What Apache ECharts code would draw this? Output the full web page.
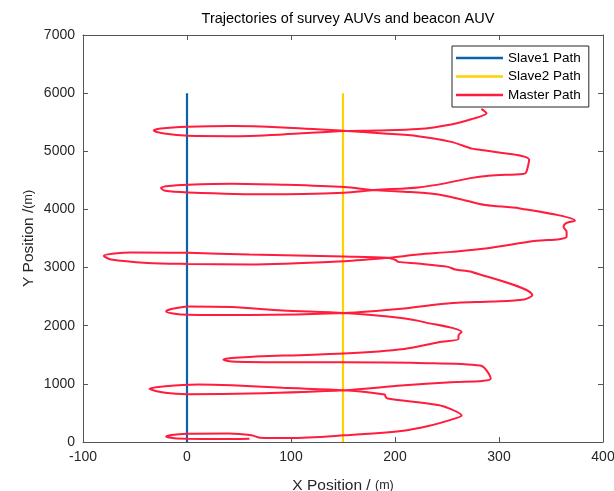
<!DOCTYPE html>
<html>
<head>
<meta charset="utf-8">
<script src="https://cdn.jsdelivr.net/npm/echarts@6/dist/echarts.min.js"></script>
<style>
html,body{margin:0;padding:0;background:#fff;}
#chart{width:614px;height:491px;}
</style>
</head>
<body>
<div id="chart"></div>
<script>
// ---- data ----
var titleText = 'Trajectories of survey AUVs and beacon AUV';
var seriesNames = ['Slave1 Path', 'Slave2 Path', 'Master Path'];
var slave1Path = [[0, 0], [0, 6000]];
var slave2Path = [[150, 0], [150, 6000]];
var masterPath = [
  [283,5728],[288,5653],[274,5555],[254,5462],[222,5382],[183,5358],[150,5347],
  [92,5289],[43,5260],[1,5266],[-22,5306],[-32,5358],[-25,5393],[1,5422],[43,5434],[92,5410],[150,5353],
  [189,5306],[222,5260],[254,5162],[274,5046],[280,5029],[329,4856],[326,4632],[323,4609],[290,4580],
  [271,4534],[248,4448],[222,4379],[180,4333],
  [151,4287],[76,4259],[1,4293],[-21,4322],[-25,4368],[-18,4402],[1,4425],[43,4443],[92,4425],[151,4385],[180,4333],
  [209,4305],[238,4264],[264,4172],[287,4075],[320,4017],[373,3805],[365,3770],[362,3701],[365,3615],
  [365,3529],[358,3489],[336,3460],[287,3328],[254,3270],[222,3224],[193,3167],
  [151,3109],[60,3052],[1,3063],[-38,3080],[-73,3138],[-80,3201],[-54,3259],[1,3253],[60,3224],[151,3190],[193,3167],
  [201,3126],[203,3098],[222,3069],[251,3012],[258,2966],[274,2925],[332,2523],[324,2450],[294,2415],
  [260,2395],[238,2360],[206,2290],[151,2217],
  [60,2183],[1,2189],[-12,2206],[-20,2246],[-15,2286],[1,2331],[43,2320],[92,2263],[151,2217],
  [206,2131],[229,2057],[264,1891],[261,1829],[261,1771],[242,1714],[209,1600],[151,1520],[92,1486],
  [43,1446],[35,1417],[43,1383],[92,1371],[151,1371],[222,1360],[282,1314],[292,1086],[284,1051],
  [254,1029],[206,971],[151,891],
  [60,834],[1,823],[-21,846],[-36,914],[-21,960],[11,989],[43,975],[92,931],[151,891],
  [190,817],[191,777],[193,749],[238,646],[248,606],[264,457],[258,406],[232,274],[206,189],[151,114],
  [99,68],[70,75],[62,115],[40,145],[0,140],[-15,120],[-20,92],[-12,65],[0,57],[30,52],[60,58]
];
var xTicks = {min: -100, max: 400, step: 100};
var yTicks = {min: 0, max: 7000, step: 1000};
var xLabel = 'X Position /';
var yLabel = 'Y Position /';
var unitLabel = '(m)';

// ---- chart ----
var font = 'Liberation Sans, Arial, Helvetica, sans-serif';
var axisColor = '#555555';
var textColor = '#262626';
var chart = echarts.init(document.getElementById('chart'), null, {renderer: 'canvas'});

function plain(v) { return String(v); }

function baseAxis(extra) {
  return Object.assign({
    type: 'value',
    axisLine: {show: true, onZero: false, lineStyle: {color: axisColor, width: 1}},
    axisTick: {show: true, inside: true, length: 5, lineStyle: {color: axisColor, width: 1}},
    splitLine: {show: false},
    axisLabel: {show: false}
  }, extra);
}

chart.setOption({
  animation: false,
  backgroundColor: '#ffffff',
  title: {
    text: titleText,
    left: 343, top: 6, textAlign: 'center',
    textStyle: {fontFamily: font, fontSize: 14.5, fontWeight: 'normal', color: '#000'}
  },
  grid: {left: 83, right: 11, top: 35, bottom: 49, containLabel: false, outerBoundsMode: 'none'},
  legend: {
    data: seriesNames,
    orient: 'vertical',
    left: 452, top: 46,
    icon: 'rect',
    itemWidth: 47, itemHeight: 2.5,
    itemGap: 4.5,
    padding: [5, 8, 5, 4],
    borderColor: '#262626', borderWidth: 1,
    backgroundColor: '#ffffff',
    textStyle: {fontFamily: font, fontSize: 13.5, color: '#000', lineHeight: 14}
  },
  xAxis: [
    baseAxis({
      min: xTicks.min, max: xTicks.max, interval: xTicks.step, position: 'bottom',
      axisLabel: {show: true, margin: 8, fontFamily: font, fontSize: 14, color: textColor, formatter: plain},
      name: xLabel + ' {u|' + unitLabel + '}', nameLocation: 'middle', nameGap: 36, nameMoveOverlap: false,
      nameTextStyle: {fontFamily: font, fontSize: 15.5, color: textColor,
        rich: {u: {fontFamily: font, fontSize: 12.5, color: textColor}}}
    }),
    baseAxis({min: xTicks.min, max: xTicks.max, interval: xTicks.step, position: 'top'})
  ],
  yAxis: [
    baseAxis({
      min: yTicks.min, max: yTicks.max, interval: yTicks.step, position: 'left',
      axisLabel: {show: true, margin: 8, fontFamily: font, fontSize: 14, color: textColor, formatter: plain},
      name: yLabel + '{u|' + unitLabel + '}', nameLocation: 'middle', nameGap: 46, nameMoveOverlap: false,
      nameTextStyle: {fontFamily: font, fontSize: 15.5, color: textColor,
        rich: {u: {fontFamily: font, fontSize: 12.5, color: textColor}}}
    }),
    baseAxis({min: yTicks.min, max: yTicks.max, interval: yTicks.step, position: 'right'})
  ],
  series: [
    {name: seriesNames[0], type: 'line', data: slave1Path, symbol: 'none',
     color: '#0a62ad', lineStyle: {color: '#0a62ad', width: 2.2}},
    {name: seriesNames[1], type: 'line', data: slave2Path, symbol: 'none',
     color: '#ffd000', lineStyle: {color: '#ffd000', width: 2.2}},
    {name: seriesNames[2], type: 'line', data: masterPath, symbol: 'none', smooth: 0.3,
     color: '#ff1c3c', lineStyle: {color: '#ff1c3c', width: 2}}
  ]
});
</script>
</body>
</html>
